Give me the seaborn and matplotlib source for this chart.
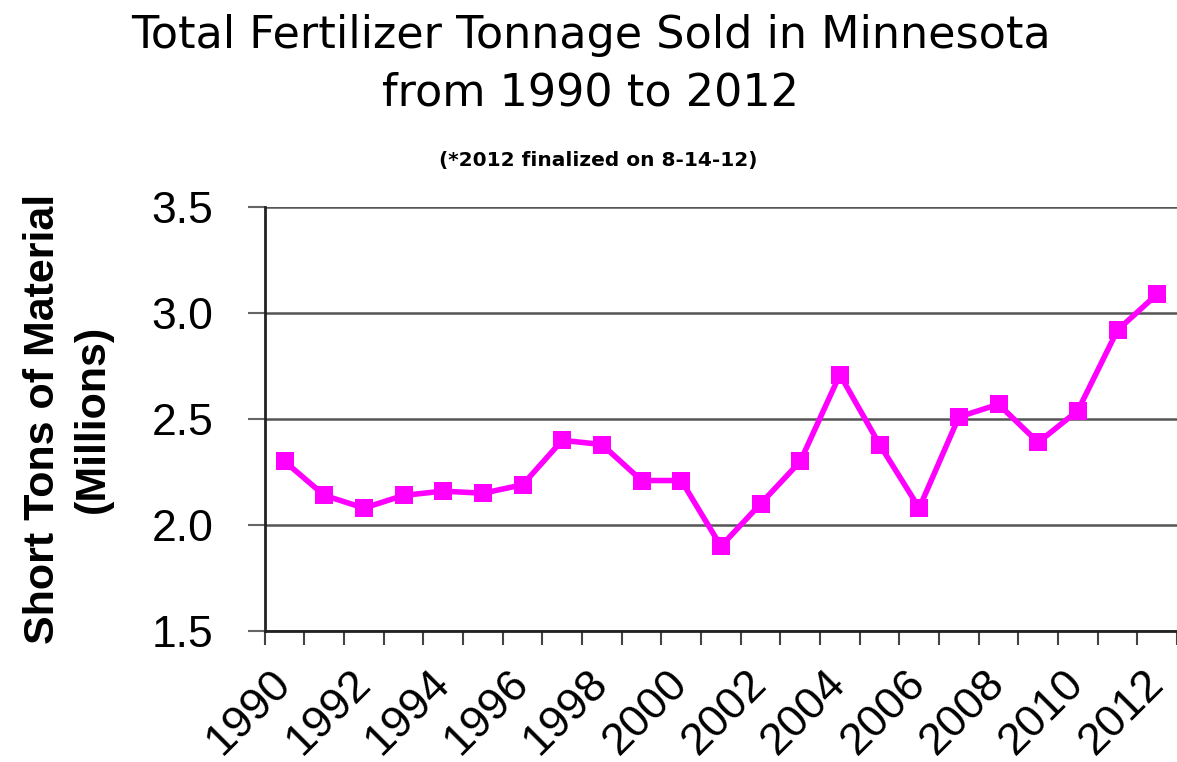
import numpy as np
import matplotlib
matplotlib.use('Agg')
import matplotlib.pyplot as plt
from matplotlib.ticker import MultipleLocator
import seaborn as sns
import pandas as pd

years = list(range(1990, 2013))
tons = [2.30, 2.14, 2.08, 2.14, 2.16, 2.15, 2.19, 2.40, 2.38, 2.21, 2.21, 1.90,
        2.10, 2.30, 2.71, 2.38, 2.08, 2.51, 2.57, 2.39, 2.54, 2.92, 3.09]
label_years = [y for y in years if y % 2 == 0]
ytick_vals = [1.5, 2.0, 2.5, 3.0, 3.5]

sns.set_style('white')
plt.rcParams['font.family'] = ['Liberation Sans', 'DejaVu Sans']
plt.rcParams['text.color'] = 'black'

df = pd.DataFrame({'year': years, 'tons': tons})

fig = plt.figure(figsize=(11.77, 7.62), dpi=100)
ax = fig.add_axes([0.225, 0.172, 0.775, 0.556])

sns.lineplot(data=df, x='year', y='tons', ax=ax, color='#ff00ff', linewidth=4,
             marker='s', markersize=12.5, markeredgewidth=0, zorder=3)

ax.set_xlim(1989.5, 2012.5)
ax.set_ylim(1.5, 3.5)
ax.set_yticks(ytick_vals)
ax.set_yticklabels([f'{v:.1f}' for v in ytick_vals], fontsize=32, color='black')
ax.yaxis.grid(True, color='#555555', linewidth=1.8)
ax.tick_params(axis='y', direction='out', length=12, width=1.5, color='#666666', pad=25, left=True)

ax.set_xticks(label_years)
ax.set_xticklabels([str(y) for y in label_years], fontsize=32.5, rotation=45, color='black',
                   ha='right', va='center', rotation_mode='anchor')
ax.tick_params(axis='x', which='major', length=0, pad=33)
ax.xaxis.set_minor_locator(MultipleLocator(1, offset=0.5))
ax.tick_params(axis='x', which='minor', direction='out', length=10, width=1.5,
               color='#444444', bottom=True)

for side in ['top', 'right']:
    ax.spines[side].set_visible(False)
for side in ['left', 'bottom']:
    ax.spines[side].set_color('#222222')
    ax.spines[side].set_linewidth(2)

ax.set_xlabel('')
ax.set_ylabel('Short Tons of Material\n(Millions)', fontsize=31, fontweight='bold',
              labelpad=28, linespacing=1.3, color='black')

fig.text(0.502, 0.954, 'Total Fertilizer Tonnage Sold in Minnesota', ha='center', va='center',
         fontsize=32, family='DejaVu Sans')
fig.text(0.502, 0.878, 'from 1990 to 2012', ha='center', va='center',
         fontsize=32, family='DejaVu Sans')
fig.text(0.508, 0.789, '(*2012 finalized on 8-14-12)', ha='center', va='center',
         fontsize=14.5, fontweight='bold', family='DejaVu Sans')

fig.savefig('out.png', dpi=100)
